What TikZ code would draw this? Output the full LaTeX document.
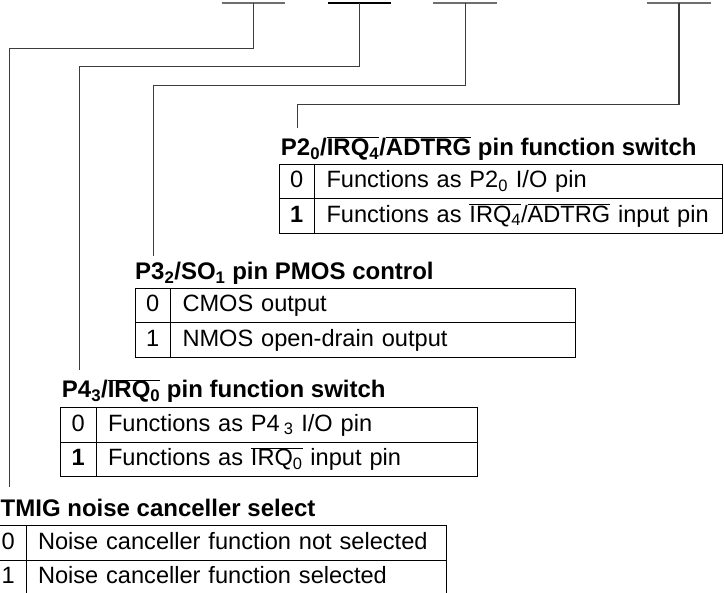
\documentclass[tikz,border=0pt]{standalone}
\usepackage{fontspec}
\setmainfont{Liberation Sans}
\usepackage{xcolor}
\definecolor{LeadGray}{RGB}{60,60,60}
\definecolor{BarGray}{RGB}{110,110,110}
\usetikzlibrary{positioning}
\newcommand{\ovl}[1]{$\overline{\hbox{#1}}$}
\tikzset{
  % register bit tick at the top
  bitbar/.style={line width=1.6pt, BarGray},
  % lead from a bit down to its table
  lead/.style={line width=1.2pt, LeadGray},
  % table heading
  heading/.style={anchor=base west, inner sep=0pt,
    font=\fontsize{24}{28}\selectfont\bfseries},
  % bit value cell
  valcell/.style={
    rectangle, draw, line width=1pt, outer sep=0pt, inner sep=0pt,
    minimum width=35.5pt, minimum height=34.5pt,
    text height=17pt, text depth=5pt,
    font=\fontsize{23.6}{28}\selectfont
  },
  % description cell
  desccell/.style={
    rectangle, draw, line width=1pt, outer sep=0pt,
    inner xsep=12pt, inner ysep=0pt, minimum height=34.5pt,
    text height=17pt, text depth=5pt, align=left,
    font=\fontsize{23.6}{28}\selectfont
  },
}

\begin{document}
\begin{tikzpicture}[x=1pt, y=-1pt]

  \clip[use as bounding box] (0,0) rectangle (724,593);

  %% register bits
  \coordinate (tmigbit) at (253.5,3);
  \coordinate (p43bit)  at (359.5,3);
  \coordinate (p32bit)  at (465.2,3);
  \coordinate (p20bit)  at (679,3);

  \draw[bitbar] ([xshift=-31.8pt]tmigbit) -- ([xshift=31.8pt]tmigbit);
  \draw[bitbar, line width=2.2pt, black]
    ([xshift=-32pt]p43bit) -- ([xshift=31pt]p43bit);
  \draw[bitbar] ([xshift=-32pt]p32bit) -- ([xshift=32pt]p32bit);
  \draw[bitbar] ([xshift=-32pt]p20bit) -- ([xshift=32pt]p20bit);

  %% P2_0 / IRQ4 / ADTRG
  \node[heading] (p20head) at (280.7,155.5)
    {P2\textsubscript{0}/\ovl{IRQ\textsubscript{4}}/\ovl{ADTRG} pin function switch};
  \node[valcell, anchor=north west] (p20v0) at (279,164.5) {0};
  \node[desccell, text width=384pt, right=0pt of p20v0]
    (p20d0) {\mbox{Functions as P2\textsubscript{0} I/O pin}};
  \node[valcell, below=0pt of p20v0] (p20v1) {\textbf{1}};
  \node[desccell, text width=384pt, right=0pt of p20v1]
    (p20d1) {\mbox{Functions as \ovl{IRQ\textsubscript{4}}/\ovl{ADTRG} input pin}};

  %% P3_2 / SO_1
  \node[heading] (p32head) at (135,280)
    {P3\textsubscript{2}/SO\textsubscript{1} pin PMOS control};
  \node[valcell, anchor=north west] (p32v0) at (135,288.5) {0};
  \node[desccell, text width=381pt, right=0pt of p32v0]
    (p32d0) {CMOS output};
  \node[valcell, below=0pt of p32v0] (p32v1) {1};
  \node[desccell, text width=381pt, right=0pt of p32v1]
    (p32d1) {NMOS open-drain output};

  %% P4_3 / IRQ0
  \node[heading] (p43head) at (61.7,398)
    {P4\textsubscript{3}/\ovl{IRQ\textsubscript{0}} pin function switch};
  \node[valcell, anchor=north west] (p43v0) at (60.5,408) {0};
  \node[desccell, text width=357pt, right=0pt of p43v0]
    (p43d0) {\mbox{Functions as P4\,\textsubscript{3} I/O pin}};
  \node[valcell, below=0pt of p43v0] (p43v1) {\textbf{1}};
  \node[desccell, text width=357pt, right=0pt of p43v1]
    (p43d1) {\mbox{Functions as \ovl{IRQ\textsubscript{0}} input pin}};

  %% TMIG noise canceller
  \node[heading] (tmighead) at (0.5,516.7) {TMIG noise canceller select};
  \node[valcell, anchor=north west] (tmigv0) at (-9.5,526) {0};
  \node[desccell, text width=396.7pt, right=0pt of tmigv0]
    (tmigd0) {\mbox{Noise canceller function not selected}};
  \node[valcell, below=0pt of tmigv0] (tmigv1) {1};
  \node[desccell, text width=396.7pt, right=0pt of tmigv1]
    (tmigd1) {Noise canceller function selected};

  %% leads
  \coordinate (tmigend) at (9.7,486.7);
  \coordinate (p43end)  at (79.4,370);
  \coordinate (p32end)  at (153.7,256);
  \coordinate (p20end)  at (297.7,128.3);

  \draw[lead] (tmigbit) -- ++(0,45.3) -| (tmigend);
  \draw[lead] (p43bit)  -- ++(0,63.7) -| (p43end);
  \draw[lead] (p32bit)  -- ++(0,82.3) -| (p32end);
  \draw[lead] (p20bit)  -- ++(0,101.3) -| (p20end);

\end{tikzpicture}
\end{document}
